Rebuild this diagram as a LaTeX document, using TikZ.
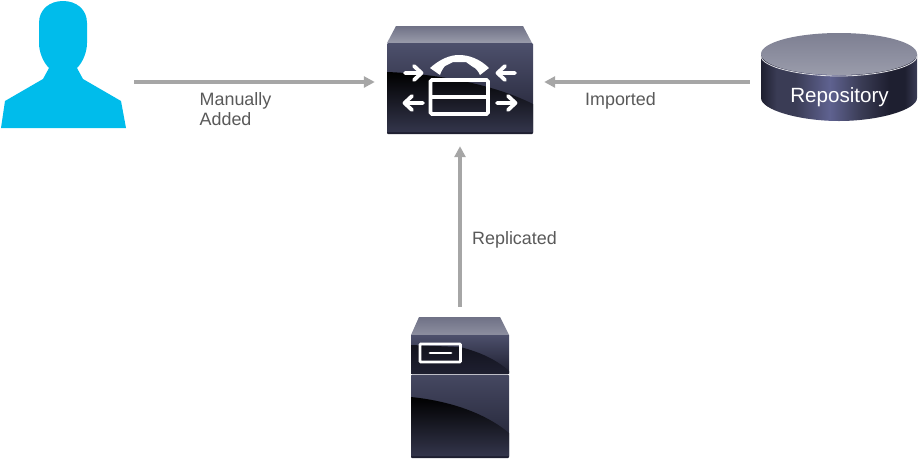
\documentclass[tikz,border=0pt]{standalone}
\usepackage{fontspec}
\setmainfont{Liberation Sans}
\usetikzlibrary{arrows.meta}
\definecolor{persc}{HTML}{00BCEB}
\definecolor{connc}{HTML}{A6A6A6}
\definecolor{labc}{HTML}{595959}
\definecolor{frontA}{HTML}{4D506C}
\definecolor{frontB}{HTML}{1E1F30}
\definecolor{drumC}{HTML}{5F6290}
\definecolor{drumD}{HTML}{3A3C55}
\definecolor{topA}{HTML}{6F7186}
\definecolor{topB}{HTML}{9A9CAB}
\definecolor{glossA}{HTML}{000000}
\definecolor{glossB}{HTML}{33354B}
\pgfdeclarehorizontalshading{drum}{100bp}{color(0bp)=(frontB);color(25bp)=(frontB);color(30bp)=(drumD);color(36bp)=(drumD);color(47bp)=(drumC);color(57bp)=(drumD);color(66bp)=(frontB);color(71bp)=(frontB);color(75bp)=(drumD);color(100bp)=(drumD)}
\tikzset{
  conn/.style={draw=connc,line width=3.6pt,-{Triangle[length=11pt,width=11pt]}},
  lab/.style={text=labc,font=\fontsize{17.9}{20}\selectfont,anchor=west,inner sep=0pt},
  whitearrow/.style={draw=white,line width=3.8pt,line cap=round,line join=round},
}
\begin{document}
\begin{tikzpicture}[x=1pt,y=-1pt]
\useasboundingbox (0,0) rectangle (919,459);
% person
\fill[persc] (1,128) -- (5,101) -- (43,79) -- (49,68) .. controls (43,62) and (39,52) .. (39,43) -- (39,23)
  .. controls (39,9) and (50,1) .. (63,1) .. controls (76,1) and (87,9) .. (87,23) -- (87,43)
  .. controls (87,52) and (83,62) .. (77,68) -- (83,79) -- (121,101) -- (126,128) -- cycle;
\node[inner sep=0pt,minimum width=126pt,minimum height=128pt] (person) at (63,65) {};
% switch
\shade[top color=topA,bottom color=topB] (396,26) -- (523,26) -- (532,43) -- (387,43) -- cycle;
\shade[top color=frontA,bottom color=frontB,rounded corners=1pt] (387,43) rectangle (533,134);
\begin{scope}
\clip[rounded corners=1pt] (387,43) rectangle (533,134);
\shade[top color=glossA,bottom color=glossB] (387,72) .. controls (440,74) and (495,85) .. (533,104) -- (533,132) -- (387,132) -- cycle;
\end{scope}
\node[inner sep=0pt,minimum width=146pt,minimum height=108pt] (sw) at (460,80) {};
\draw[white,line width=3.6pt,rounded corners=1.5pt] (430.5,80) rectangle (488,114);
\draw[white,line width=3.6pt] (430,97) -- (488,97);
\fill[white] (430,68) .. controls (440,59) and (450,55) .. (459,55) .. controls (469,55) and (480,59) .. (489,68)
  -- (480,75) .. controls (478,71) and (476,68) .. (473,67) -- (466,62) -- (453,62) -- (445,66)
  .. controls (443,68) and (441,72) .. (440,75) -- cycle;
\draw[whitearrow] (405,73) -- (421,73) (414,66) -- (421.5,73) -- (414,80);
\draw[whitearrow] (515,73) -- (498,73) (505,66) -- (497.5,73) -- (505,80);
\draw[whitearrow] (423,103) -- (405,103) (412,96) -- (404.5,103) -- (412,110);
\draw[whitearrow] (497,103) -- (515,103) (508,96) -- (515.5,103) -- (508,110);
% repository
\shade[shading=drum] (761,54) -- (761,98) .. controls (761,110) and (800,121) .. (839,121) .. controls (878,121) and (917,110) .. (917,98) -- (917,54) -- cycle;
\shade[top color=topA!90!white,bottom color=topB] (839,54) ellipse[x radius=78,y radius=21];
\draw[white!70!topB,line width=.8pt] (761,56) .. controls (761,67) and (800,76) .. (839,76) .. controls (878,76) and (917,67) .. (917,56);
\node[inner sep=0pt,minimum width=156pt,minimum height=88pt] (repo) at (839,77) {};
\node[text=white,font=\fontsize{20.6}{24}\selectfont,inner sep=0pt] (repolab) at (839.5,97) {Repository};
% server
\shade[top color=topA,bottom color=topB!70!topA] (419,317) -- (500,317) -- (509,335) -- (411,335) -- cycle;
\shade[top color=frontA,bottom color=frontB] (411,335) rectangle (509,373);
\begin{scope}
\clip (411,335) rectangle (509,373);
\shade[top color=frontB!60!black,bottom color=frontB] (411,345) -- (460,347) .. controls (480,352) and (497,360) .. (509,371) -- (509,373) -- (411,373) -- cycle;
\end{scope}
\draw[white,line width=2.8pt,rounded corners=.8pt] (420,344) rectangle (460.5,362);
\draw[white,line width=2.8pt,line cap=round] (430,353) -- (451,353);
\shade[top color=frontA!90!black,bottom color=frontB,rounded corners=1pt] (411,374.5) rectangle (509,458);
\begin{scope}
\clip[rounded corners=1pt] (411,374.5) rectangle (509,458);
\shade[top color=glossA,bottom color=glossB] (411,397) .. controls (450,401) and (485,413) .. (509,433) -- (509,456) -- (411,456) -- cycle;
\end{scope}
\node[inner sep=0pt,minimum width=98pt,minimum height=141pt] (srv) at (460,387.5) {};
% connectors
\coordinate (pa) at ([yshift=-2pt]person.east |- sw.west);
\coordinate (ra) at ([yshift=-2pt]repo.west |- sw.east);
\draw[conn,shorten <=8pt,shorten >=12pt] (pa) -- (pa -| sw.west);
\draw[conn,shorten <=11pt,shorten >=11pt] (ra) -- (ra -| sw.east);
\draw[conn,shorten <=10pt,shorten >=12pt] (srv.north) -- (sw.south);
% labels
\node[lab] (l1) at (199.5,101) {Manually};
\node[lab] (l2) at (199.5,119) {Added};
\node[lab] (l3) at (585,101) {Imported};
\node[lab] (l4) at (472,240) {Replicated};
\end{tikzpicture}
\end{document}
